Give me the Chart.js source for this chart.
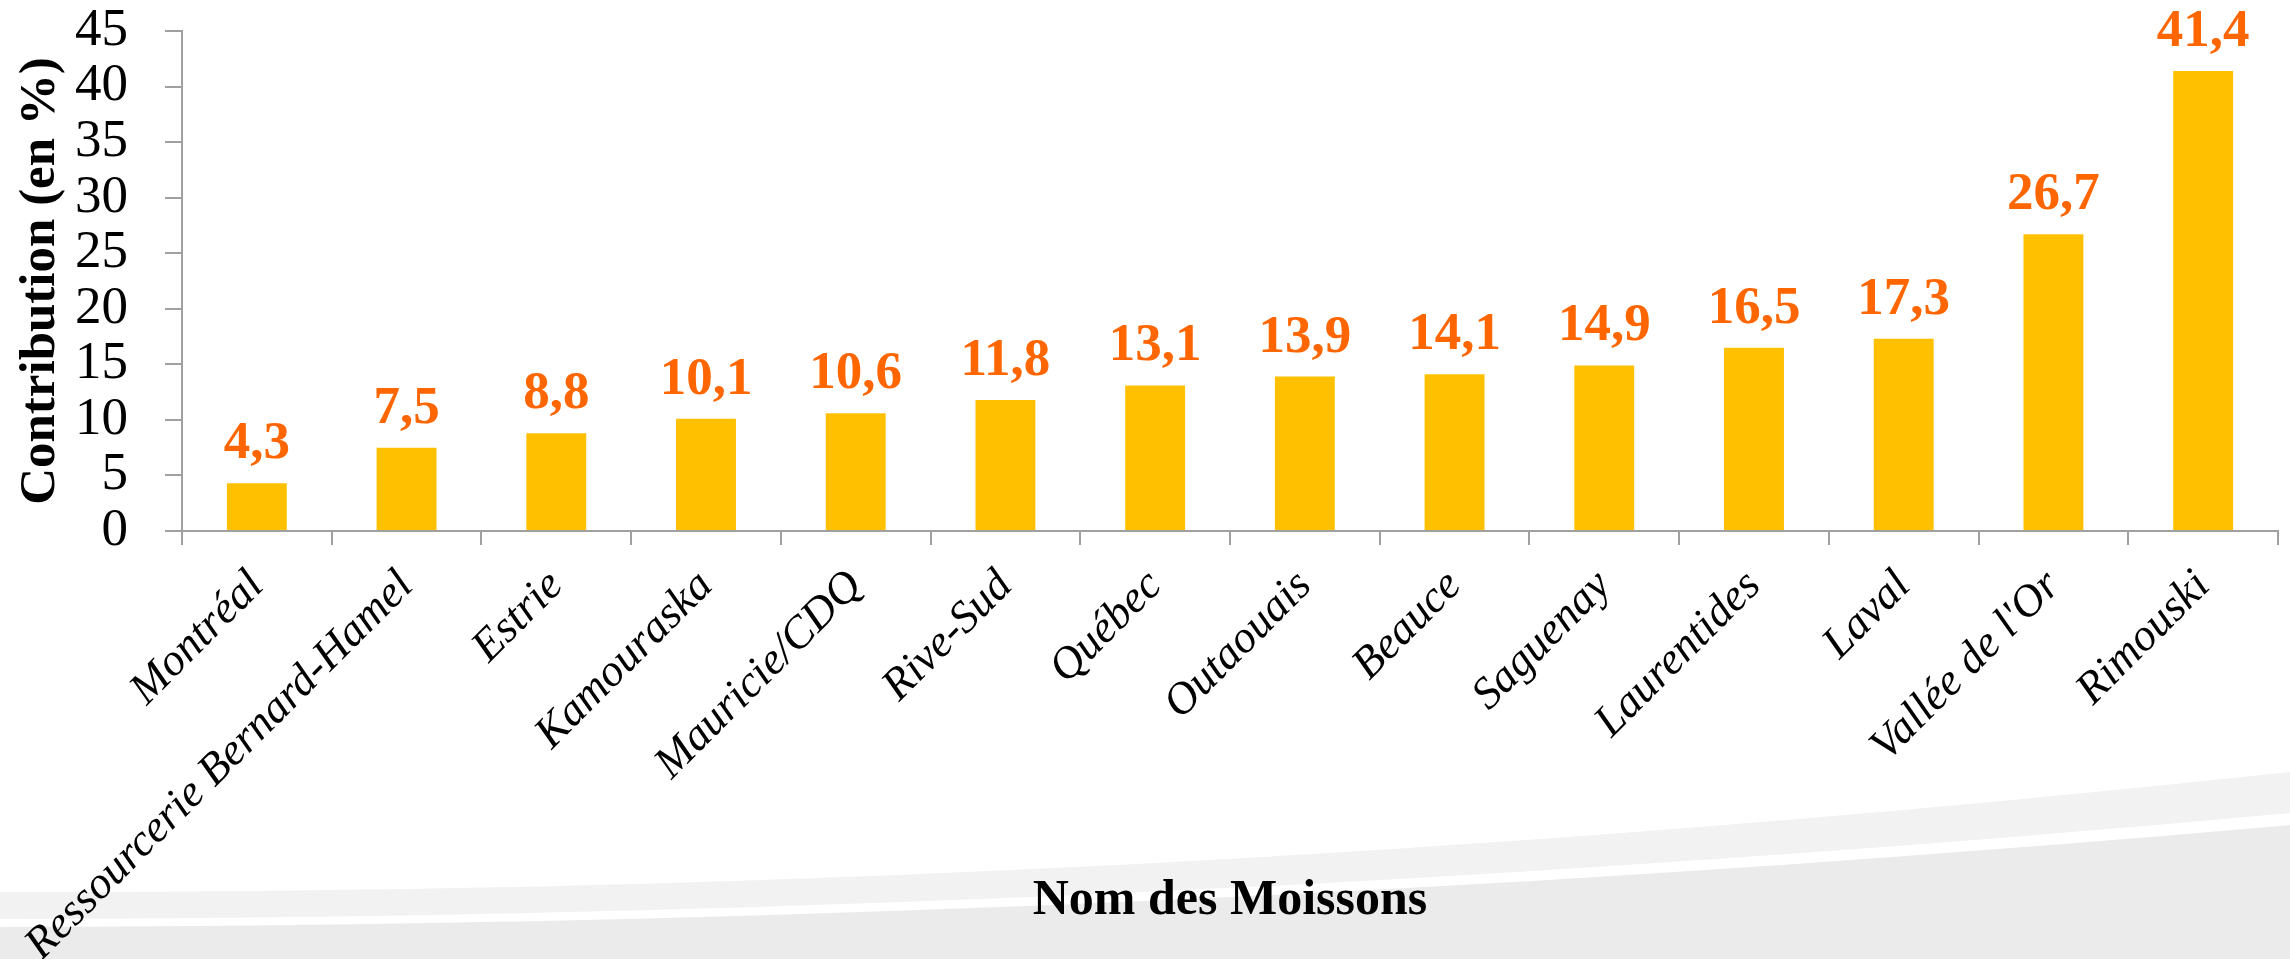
<!DOCTYPE html>
<html>
<head>
<meta charset="utf-8">
<script src="https://cdn.jsdelivr.net/npm/chart.js@4.4.0/dist/chart.umd.min.js"></script>
<style>
  html, body { margin: 0; padding: 0; background: #ffffff; }
  #wrap { position: relative; width: 2290px; height: 959px; overflow: hidden; background: #ffffff; }
  #bg { position: absolute; left: 0; top: 0; }
  #c { position: absolute; left: 0; top: 0; }
</style>
</head>
<body>
<div id="wrap">
  <svg id="bg" width="2290" height="959" xmlns="http://www.w3.org/2000/svg">
    <path d="M0,892 Q1145,895 2290,772 L2290,959 L0,959 Z" fill="#f2f2f2"/>
    <path d="M0,919 Q1145,918 2290,813 L2290,959 L0,959 Z" fill="#ffffff"/>
    <path d="M0,927 Q1145,926 2290,825 L2290,959 L0,959 Z" fill="#ebebeb"/>
  </svg>
  <canvas id="c" width="2290" height="959"></canvas>
</div>
<script>
// ---- Data ----
const categories = [
  "Montréal",
  "Ressourcerie Bernard-Hamel",
  "Estrie",
  "Kamouraska",
  "Mauricie/CDQ",
  "Rive-Sud",
  "Québec",
  "Outaouais",
  "Beauce",
  "Saguenay",
  "Laurentides",
  "Laval",
  "Vallée de l'Or",
  "Rimouski"
];
const contributionValues = [4.3, 7.5, 8.8, 10.1, 10.6, 11.8, 13.1, 13.9, 14.1, 14.9, 16.5, 17.3, 26.7, 41.4];
const valueLabels = ["4,3", "7,5", "8,8", "10,1", "10,6", "11,8", "13,1", "13,9", "14,1", "14,9", "16,5", "17,3", "26,7", "41,4"];
const yAxisMin = 0;
const yAxisMax = 45;
const yAxisStep = 5;
const yAxisTitle = "Contribution (en %)";
const xAxisTitle = "Nom des Moissons";

// ---- Styles ----
const FONT = "Liberation Serif";
const AXIS_COLOR = "#a0a0a0";

const valueLabelPlugin = {
  id: "valueLabels",
  afterDatasetsDraw(chart) {
    const ctx = chart.ctx;
    const meta = chart.getDatasetMeta(0);
    ctx.save();
    ctx.font = "bold 53px '" + FONT + "'";
    ctx.fillStyle = "#FF6600";
    ctx.textAlign = "center";
    ctx.textBaseline = "alphabetic";
    meta.data.forEach((bar, i) => {
      ctx.fillText(valueLabels[i], bar.x, bar.y - 25);
    });
    ctx.restore();
  }
};

new Chart(document.getElementById("c"), {
  type: "bar",
  data: {
    labels: categories,
    datasets: [{
      data: contributionValues,
      backgroundColor: "#FFC000",
      borderWidth: 0,
      categoryPercentage: 1.0,
      barPercentage: 0.4
    }]
  },
  options: {
    responsive: false,
    animation: false,
    devicePixelRatio: 1,
    layout: { padding: { top: 31, right: 12, left: 0, bottom: 0 } },
    plugins: {
      legend: { display: false },
      tooltip: { enabled: false }
    },
    scales: {
      x: {
        type: "category",
        offset: true,
        grid: {
          display: true,
          offset: true,
          drawOnChartArea: false,
          drawTicks: true,
          tickLength: 14,
          color: AXIS_COLOR,
          lineWidth: 2
        },
        border: { display: true, color: AXIS_COLOR, width: 2 },
        ticks: {
          autoSkip: false,
          maxRotation: 45,
          minRotation: 45,
          padding: 15,
          color: "#000000",
          font: { family: FONT, style: "italic", size: 45 }
        },
        title: {
          display: true,
          text: xAxisTitle,
          color: "#000000",
          font: { family: FONT, weight: "bold", size: 50 },
          padding: { top: 0, bottom: 28 }
        },
        afterFit(scale) {
          scale.height = 428;
          scale.paddingLeft = 0;
          scale.paddingRight = 0;
        }
      },
      y: {
        min: yAxisMin,
        max: yAxisMax,
        ticks: {
          autoSkip: false,
          stepSize: yAxisStep,
          padding: 37,
          color: "#000000",
          font: { family: FONT, size: 53 }
        },
        grid: {
          drawOnChartArea: false,
          drawTicks: true,
          tickLength: 17,
          color: AXIS_COLOR,
          lineWidth: 2
        },
        border: { display: true, color: AXIS_COLOR, width: 2 },
        title: {
          display: true,
          text: yAxisTitle,
          color: "#000000",
          font: { family: FONT, weight: "bold", size: 51 },
          padding: { top: 10, bottom: 0 }
        },
        afterFit(scale) {
          scale.width = 182;
          scale.paddingTop = 0;
          scale.paddingBottom = 0;
        }
      }
    }
  },
  plugins: [valueLabelPlugin]
});
</script>
</body>
</html>
